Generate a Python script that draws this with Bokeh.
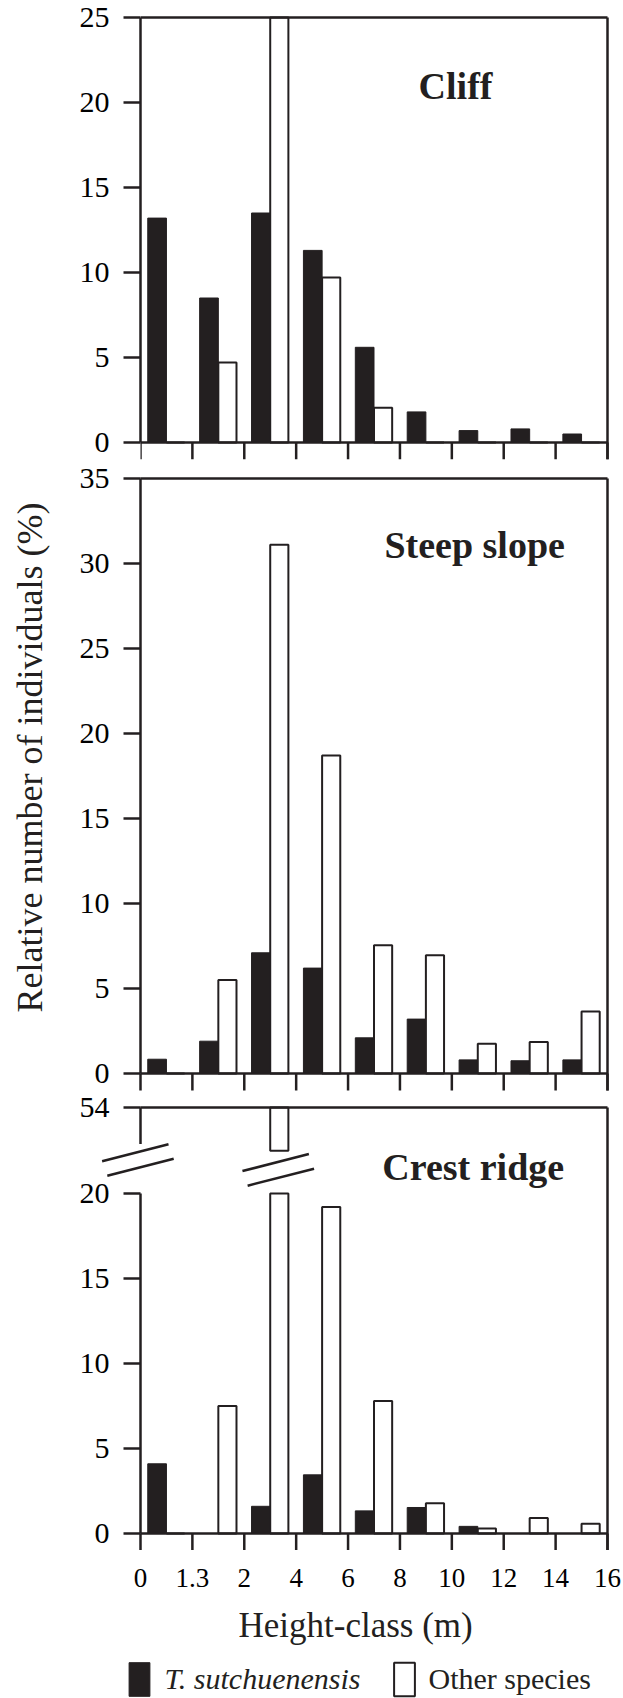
import numpy as np
from math import pi
from bokeh.plotting import figure
from bokeh.models import (Range1d, LinearAxis, FixedTicker,
                          Legend, LegendItem)
from bokeh.core.properties import value
from bokeh.layouts import column
from bokeh.embed import file_html
from bokeh.resources import INLINE

# ---------------- data ----------------
tick_labels = ["0", "1.3", "2", "4", "6", "8", "10", "12", "14", "16"]
series_names = ["T. sutchuenensis", "Other species"]

cliff_ts = [13.2, 8.5, 13.5, 11.3, 5.6, 1.8, 0.7, 0.8, 0.5]
cliff_other = [0.0, 4.7, 27.0, 9.7, 2.05, 0.0, 0.0, 0.0, 0.0]

steep_ts = [0.84, 1.9, 7.1, 6.2, 2.1, 3.2, 0.8, 0.75, 0.8]
steep_other = [0.0, 5.5, 31.1, 18.7, 7.55, 6.95, 1.75, 1.85, 3.65]

crest_ts = [4.1, 0.0, 1.6, 3.45, 1.33, 1.53, 0.42, 0.0, 0.0]
crest_other = [0.0, 7.5, 54.0, 19.2, 7.8, 1.78, 0.29, 0.91, 0.58]

cliff_yticks = [0, 5, 10, 15, 20, 25]
steep_yticks = [0, 5, 10, 15, 20, 25, 30, 35]
crest_yticks = [0, 5, 10, 15, 20]

# ---------------- style / layout constants ----------------
INK = "#231f20"
FONT = "Liberation Serif"
LW = 2.5
BAR_LW = 2
W = 623
LEFT = 140
RIGHT = 16
N = len(tick_labels) - 1
PX_X = (W - LEFT - RIGHT) / N
PX_Y = 17.0
TICK = 17
TICK_U = TICK / PX_Y
TICK_X = TICK / PX_X
PAD = 3
LABEL_GAP = 14
FULL_X = (-LEFT / PX_X, (W - LEFT) / PX_X)   # x range of a full-width frame

# broken axis of the crest-ridge panel
BREAK_LO = 20.0          # lower part of the axis ends here
UPPER_TOP = 54.0         # value at the top of the upper part
UPPER_AXIS_LO = 51.86    # where the short upper axis piece stops
UPPER_BAR_LO = 51.45     # where the upper piece of a broken bar stops


def style_axis(ax, size, standoff):
    ax.axis_line_color = INK
    ax.axis_line_width = LW
    ax.major_tick_line_color = INK
    ax.major_tick_line_width = LW
    ax.major_tick_out = TICK
    ax.major_tick_in = 0
    ax.minor_tick_line_color = None
    ax.major_label_text_font = FONT
    ax.major_label_text_font_size = f"{size}px"
    ax.major_label_text_color = "black"
    ax.major_label_standoff = standoff


def base_figure(height, x_range, y_range, left, right, top, bottom):
    p = figure(width=W, height=height, x_range=x_range, y_range=y_range,
               output_backend="svg", toolbar_location=None, tools="",
               x_axis_type=None, y_axis_type=None,
               min_border_left=left, min_border_right=right,
               min_border_top=top, min_border_bottom=bottom)
    p.background_fill_color = "white"
    p.border_fill_color = "white"
    p.outline_line_color = None
    try:
        p.frame_align = False
    except Exception:
        pass
    return p


def lines(p, x0, y0, x1, y1, y_range_name="default"):
    p.segment(x0=x0, y0=y0, x1=x1, y1=y1, line_color=INK, line_width=LW,
              y_range_name=y_range_name)


def add_bars(p, ts, other, cap=None, **kw):
    x = np.arange(N)
    other_arr = np.array(other, dtype=float)
    if cap is not None:
        other_arr = np.minimum(other_arr, cap)
    r1 = p.vbar(x=x + 0.32, top=ts, width=0.36, fill_color=INK,
                line_color=INK, line_width=1, **kw)
    r2 = p.vbar(x=x + 0.675, top=other_arr, width=0.35, fill_color="white",
                line_color=INK, line_width=BAR_LW, **kw)
    return r1, r2


def texts(p, x, y, text, size, align="left", style="normal", x_offset=0,
          color=INK, y_range_name="default", angle=0):
    p.text(x=x, y=y, text=text, x_offset=x_offset, text_align=align,
           text_baseline="middle", text_font=value(FONT),
           text_font_size=value(f"{size}px"), text_font_style=style,
           text_color=color, y_range_name=y_range_name, angle=angle)


def panel_title(p, text, x, y):
    texts(p, [x], [y], [text], 38, style="bold")


def glyph_y_axis(p, ticks, top, y_range_name="default"):
    """y axis drawn through the scales: line from 0 to `top`, ticks, labels."""
    nt = len(ticks)
    lines(p, [0], [0], [0], [top], y_range_name)
    lines(p, [0] * nt, ticks, [-TICK_X] * nt, ticks, y_range_name)
    texts(p, [0] * nt, ticks, [str(t) for t in ticks], 30, align="right",
          x_offset=-(TICK + LABEL_GAP), color="black", y_range_name=y_range_name)


def bottom_lines(p, right_top):
    xs = list(range(N + 1))
    lines(p, [0, N], [0, -TICK_U], [N, N], [0, right_top])
    lines(p, xs, [0] * len(xs), xs, [-TICK_U] * len(xs))


# ---------------- panel 1: Cliff ----------------
p1 = base_figure(461, Range1d(0, N + PAD / PX_X),
                 Range1d(-TICK_U, 25 + PAD / PX_Y), LEFT, RIGHT - PAD, 14, 2)
ya1 = LinearAxis(ticker=FixedTicker(ticks=cliff_yticks), bounds=(0, 25))
style_axis(ya1, 30, LABEL_GAP)
p1.add_layout(ya1, "left")
add_bars(p1, cliff_ts, cliff_other, cap=25)
lines(p1, [0], [25], [N], [25])
bottom_lines(p1, 25)
panel_title(p1, "Cliff", 5.36, 21.0)

# ---------------- panel 2: Steep slope ----------------
# full-width frame, so the rotated y-axis title can sit at the page edge
P2_TOP, P2_BOT, P2_YMAX_PAGE = 461, 1091, 478
y2_hi = 35 + (P2_YMAX_PAGE - P2_TOP) / PX_Y
y2_lo = 35 - (P2_BOT - P2_YMAX_PAGE) / PX_Y
p2 = base_figure(P2_BOT - P2_TOP, Range1d(*FULL_X), Range1d(y2_lo, y2_hi),
                 0, 0, 0, 0)
add_bars(p2, steep_ts, steep_other, cap=35)
glyph_y_axis(p2, steep_yticks, 35)
lines(p2, [0], [35], [N], [35])
bottom_lines(p2, 35)
panel_title(p2, "Steep slope", 4.70, 31.09)
texts(p2, [(29 - LEFT) / PX_X], [35 - (757 - P2_YMAX_PAGE) / PX_Y],
      ["Relative number of individuals (%)"], 36, align="center", angle=pi / 2)

# ---------------- panel 3: Crest ridge (broken axis) ----------------
ZERO3 = 1533          # page y of the zero line
P3_TOP, P3_BOT = 1091, 1550
y3_lo = (ZERO3 - P3_BOT) / PX_Y
y3_hi = (ZERO3 - P3_TOP) / PX_Y
TOP_MAIN = (ZERO3 - 1107) / PX_Y      # position of the top line (value 54)
OFFSET = UPPER_TOP - TOP_MAIN

p3 = base_figure(P3_BOT - P3_TOP, Range1d(*FULL_X), Range1d(y3_lo, y3_hi),
                 0, 0, 0, 0)
p3.extra_y_ranges = {"upper": Range1d(y3_lo + OFFSET, y3_hi + OFFSET)}

add_bars(p3, crest_ts, crest_other, cap=BREAK_LO)
xs = np.arange(N)
up_idx = [i for i, v in enumerate(crest_other) if v > BREAK_LO]
p3.vbar(x=[xs[i] + 0.675 for i in up_idx],
        top=[crest_other[i] for i in up_idx],
        bottom=UPPER_BAR_LO, width=0.35, fill_color="white",
        line_color=INK, line_width=BAR_LW, y_range_name="upper")

# lower part of the y axis
glyph_y_axis(p3, crest_yticks, BREAK_LO)
# upper part of the y axis with the 54 tick and label
lines(p3, [0, 0], [UPPER_TOP, UPPER_TOP], [0, -TICK_X],
      [UPPER_AXIS_LO, UPPER_TOP], "upper")
texts(p3, [0], [UPPER_TOP], ["54"], 30, align="right",
      x_offset=-(TICK + LABEL_GAP), color="black", y_range_name="upper")
# top line, zero line, class ticks and right edge
lines(p3, [0], [TOP_MAIN], [N], [TOP_MAIN])
bottom_lines(p3, TOP_MAIN)


# break marks (two parallel slashes) on the axis and on the broken bar
def break_marks(cx, cy):
    dx, dy = 0.64, 0.5
    x0, y0, x1, y1 = [], [], [], []
    for ox, oy in ((-0.05, 0.43), (0.05, -0.43)):
        x0.append(cx + ox - dx); y0.append(cy + oy - dy)
        x1.append(cx + ox + dx); y1.append(cy + oy + dy)
    lines(p3, x0, y0, x1, y1)


break_marks(-0.05, 21.97)
break_marks(2.655, 21.39)

panel_title(p3, "Crest ridge", 4.66, (ZERO3 - 1166.5) / PX_Y)

# ---------------- x labels, axis title and legend row ----------------
BOT_H = 1698 - 461 - (P2_BOT - P2_TOP) - (P3_BOT - P3_TOP)
PAGE_BOTTOM = 1698
pl = base_figure(BOT_H, Range1d(*FULL_X), Range1d(0, BOT_H), 0, 0, 0, 0)
texts(pl, list(range(N + 1)), [PAGE_BOTTOM - 1577] * (N + 1), tick_labels, 27,
      align="center", color="black")
texts(pl, [(238 - LEFT) / PX_X], [PAGE_BOTTOM - 1625], ["Height-class (m)"], 35)

lr1, lr2 = add_bars(pl, crest_ts, crest_other, visible=False)
leg_common = dict(orientation="horizontal", glyph_width=26, glyph_height=42,
                  label_standoff=12, padding=0, margin=0, spacing=0,
                  border_line_color=None, background_fill_alpha=0,
                  inactive_fill_alpha=0, click_policy="none",
                  label_text_font=FONT, label_text_font_size="30px",
                  label_text_color=INK)
pl.add_layout(Legend(items=[LegendItem(label=series_names[0], renderers=[lr1])],
                     location=(126.4, -1.8), label_text_font_style="italic",
                     **leg_common))
pl.add_layout(Legend(items=[LegendItem(label=series_names[1], renderers=[lr2])],
                     location=(390.5, -1.8), label_text_font_style="normal",
                     **leg_common))

layout = column(p1, p2, p3, pl, spacing=0)
open("out.html", "w").write(file_html(layout, INLINE))
